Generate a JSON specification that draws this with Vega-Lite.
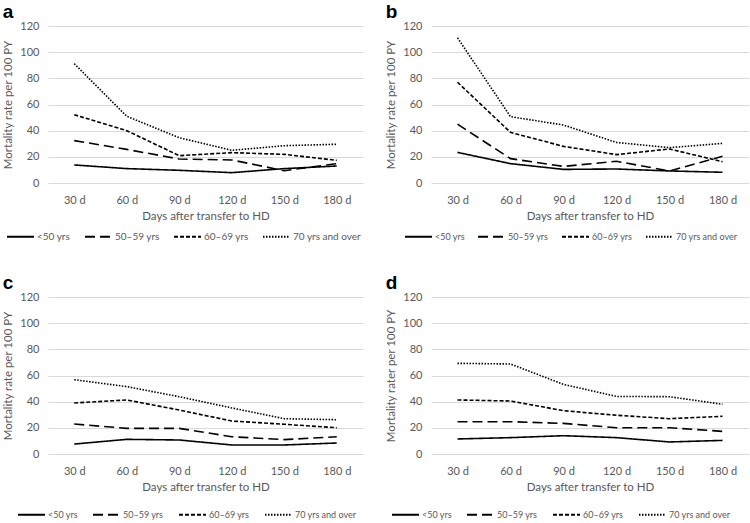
{
  "$schema": "https://vega.github.io/schema/vega-lite/v6.json",
  "padding": {"left": 2, "top": 3, "right": 0, "bottom": 0},
  "background": "white",
  "data": {"values": [
    {"panel":"a","day":"30 d","group":"<50 yrs","rate":13.8},
    {"panel":"a","day":"60 d","group":"<50 yrs","rate":11},
    {"panel":"a","day":"90 d","group":"<50 yrs","rate":9.7},
    {"panel":"a","day":"120 d","group":"<50 yrs","rate":7.9},
    {"panel":"a","day":"150 d","group":"<50 yrs","rate":11},
    {"panel":"a","day":"180 d","group":"<50 yrs","rate":13},
    {"panel":"a","day":"30 d","group":"50–59 yrs","rate":32.4},
    {"panel":"a","day":"60 d","group":"50–59 yrs","rate":25.7},
    {"panel":"a","day":"90 d","group":"50–59 yrs","rate":18.3},
    {"panel":"a","day":"120 d","group":"50–59 yrs","rate":17.6},
    {"panel":"a","day":"150 d","group":"50–59 yrs","rate":9.4},
    {"panel":"a","day":"180 d","group":"50–59 yrs","rate":14.8},
    {"panel":"a","day":"30 d","group":"60–69 yrs","rate":52.2},
    {"panel":"a","day":"60 d","group":"60–69 yrs","rate":40},
    {"panel":"a","day":"90 d","group":"60–69 yrs","rate":20.9},
    {"panel":"a","day":"120 d","group":"60–69 yrs","rate":23.2},
    {"panel":"a","day":"150 d","group":"60–69 yrs","rate":21.9},
    {"panel":"a","day":"180 d","group":"60–69 yrs","rate":17.3},
    {"panel":"a","day":"30 d","group":"70 yrs and over","rate":91.2},
    {"panel":"a","day":"60 d","group":"70 yrs and over","rate":51},
    {"panel":"a","day":"90 d","group":"70 yrs and over","rate":34.6},
    {"panel":"a","day":"120 d","group":"70 yrs and over","rate":25},
    {"panel":"a","day":"150 d","group":"70 yrs and over","rate":28.5},
    {"panel":"a","day":"180 d","group":"70 yrs and over","rate":29.6},
    {"panel":"b","day":"30 d","group":"<50 yrs","rate":23.4},
    {"panel":"b","day":"60 d","group":"<50 yrs","rate":14.8},
    {"panel":"b","day":"90 d","group":"<50 yrs","rate":10.4},
    {"panel":"b","day":"120 d","group":"<50 yrs","rate":10.7},
    {"panel":"b","day":"150 d","group":"<50 yrs","rate":9.2},
    {"panel":"b","day":"180 d","group":"<50 yrs","rate":8.2},
    {"panel":"b","day":"30 d","group":"50–59 yrs","rate":45},
    {"panel":"b","day":"60 d","group":"50–59 yrs","rate":18.6},
    {"panel":"b","day":"90 d","group":"50–59 yrs","rate":12.7},
    {"panel":"b","day":"120 d","group":"50–59 yrs","rate":16.6},
    {"panel":"b","day":"150 d","group":"50–59 yrs","rate":9.2},
    {"panel":"b","day":"180 d","group":"50–59 yrs","rate":20.4},
    {"panel":"b","day":"30 d","group":"60–69 yrs","rate":77},
    {"panel":"b","day":"60 d","group":"60–69 yrs","rate":38.7},
    {"panel":"b","day":"90 d","group":"60–69 yrs","rate":28},
    {"panel":"b","day":"120 d","group":"60–69 yrs","rate":21.7},
    {"panel":"b","day":"150 d","group":"60–69 yrs","rate":26},
    {"panel":"b","day":"180 d","group":"60–69 yrs","rate":16.3},
    {"panel":"b","day":"30 d","group":"70 yrs and over","rate":111},
    {"panel":"b","day":"60 d","group":"70 yrs and over","rate":50.7},
    {"panel":"b","day":"90 d","group":"70 yrs and over","rate":44.3},
    {"panel":"b","day":"120 d","group":"70 yrs and over","rate":31},
    {"panel":"b","day":"150 d","group":"70 yrs and over","rate":27},
    {"panel":"b","day":"180 d","group":"70 yrs and over","rate":30.3},
    {"panel":"c","day":"30 d","group":"<50 yrs","rate":7.6},
    {"panel":"c","day":"60 d","group":"<50 yrs","rate":11.2},
    {"panel":"c","day":"90 d","group":"<50 yrs","rate":10.7},
    {"panel":"c","day":"120 d","group":"<50 yrs","rate":6.9},
    {"panel":"c","day":"150 d","group":"<50 yrs","rate":6.9},
    {"panel":"c","day":"180 d","group":"<50 yrs","rate":8.4},
    {"panel":"c","day":"30 d","group":"50–59 yrs","rate":22.9},
    {"panel":"c","day":"60 d","group":"50–59 yrs","rate":19.6},
    {"panel":"c","day":"90 d","group":"50–59 yrs","rate":19.6},
    {"panel":"c","day":"120 d","group":"50–59 yrs","rate":13.2},
    {"panel":"c","day":"150 d","group":"50–59 yrs","rate":11},
    {"panel":"c","day":"180 d","group":"50–59 yrs","rate":13.2},
    {"panel":"c","day":"30 d","group":"60–69 yrs","rate":39},
    {"panel":"c","day":"60 d","group":"60–69 yrs","rate":41.3},
    {"panel":"c","day":"90 d","group":"60–69 yrs","rate":33.6},
    {"panel":"c","day":"120 d","group":"60–69 yrs","rate":25.2},
    {"panel":"c","day":"150 d","group":"60–69 yrs","rate":22.7},
    {"panel":"c","day":"180 d","group":"60–69 yrs","rate":20.1},
    {"panel":"c","day":"30 d","group":"70 yrs and over","rate":56.8},
    {"panel":"c","day":"60 d","group":"70 yrs and over","rate":51.5},
    {"panel":"c","day":"90 d","group":"70 yrs and over","rate":43.8},
    {"panel":"c","day":"120 d","group":"70 yrs and over","rate":35.2},
    {"panel":"c","day":"150 d","group":"70 yrs and over","rate":27},
    {"panel":"c","day":"180 d","group":"70 yrs and over","rate":26.2},
    {"panel":"d","day":"30 d","group":"<50 yrs","rate":11.5},
    {"panel":"d","day":"60 d","group":"<50 yrs","rate":12.5},
    {"panel":"d","day":"90 d","group":"<50 yrs","rate":14},
    {"panel":"d","day":"120 d","group":"<50 yrs","rate":12.5},
    {"panel":"d","day":"150 d","group":"<50 yrs","rate":9.2},
    {"panel":"d","day":"180 d","group":"<50 yrs","rate":10.4},
    {"panel":"d","day":"30 d","group":"50–59 yrs","rate":24.7},
    {"panel":"d","day":"60 d","group":"50–59 yrs","rate":24.7},
    {"panel":"d","day":"90 d","group":"50–59 yrs","rate":23.4},
    {"panel":"d","day":"120 d","group":"50–59 yrs","rate":20.1},
    {"panel":"d","day":"150 d","group":"50–59 yrs","rate":20.1},
    {"panel":"d","day":"180 d","group":"50–59 yrs","rate":17.3},
    {"panel":"d","day":"30 d","group":"60–69 yrs","rate":41.3},
    {"panel":"d","day":"60 d","group":"60–69 yrs","rate":40.5},
    {"panel":"d","day":"90 d","group":"60–69 yrs","rate":33.1},
    {"panel":"d","day":"120 d","group":"60–69 yrs","rate":29.6},
    {"panel":"d","day":"150 d","group":"60–69 yrs","rate":27},
    {"panel":"d","day":"180 d","group":"60–69 yrs","rate":28.8},
    {"panel":"d","day":"30 d","group":"70 yrs and over","rate":69.3},
    {"panel":"d","day":"60 d","group":"70 yrs and over","rate":68.8},
    {"panel":"d","day":"90 d","group":"70 yrs and over","rate":53.2},
    {"panel":"d","day":"120 d","group":"70 yrs and over","rate":44},
    {"panel":"d","day":"150 d","group":"70 yrs and over","rate":43.8},
    {"panel":"d","day":"180 d","group":"70 yrs and over","rate":38}
  ]},
  "config": {
    "view": {"stroke": null},
    "font": "Lato",
    "axis": {
      "domain": false, "ticks": false,
      "labelColor": "#595959", "titleColor": "#595959",
      "labelFont": "Lato", "titleFont": "Lato",
      "labelFontSize": 11, "titleFontSize": 11.5, "titleFontWeight": "normal",
      "gridColor": "#d9d9d9", "gridWidth": 1
    },
    "axisX": {"grid": false, "labelAngle": 0, "labelPadding": 11, "titlePadding": 5},
    "axisY": {"labelPadding": 9, "titlePadding": 6},
    "legend": {
      "orient": "none", "direction": "horizontal", "columns": 4,
      "symbolType": "stroke", "symbolSize": 729, "symbolStrokeWidth": 1.8,
      "symbolStrokeColor": "black",
      "labelFont": "Lato", "labelFontSize": 9, "labelColor": "#595959",
      "labelOffset": 2, "columnPadding": 11, "title": null
    },
    "title": {"anchor": "start", "frame": "bounds", "font": "Liberation Sans", "fontSize": 19, "fontWeight": "bold", "color": "black", "offset": -2}
  },
  "columns": 2,
  "spacing": {"column": 22, "row": 32},
  "resolve": {"scale": {"strokeDash": "independent"}, "legend": {"strokeDash": "independent"}},
  "concat": [
    {
      "title": "a",
      "width": 315, "height": 157,
      "transform": [{"filter": "datum.panel === 'a'"}],
      "mark": {"type": "line", "color": "black", "strokeWidth": 1.6},
      "encoding": {
        "x": {"field": "day", "type": "ordinal", "sort": ["30 d","60 d","90 d","120 d","150 d","180 d"], "axis": {"title": "Days after transfer to HD"}},
        "y": {"field": "rate", "type": "quantitative", "scale": {"domain": [0, 120]}, "axis": {"title": "Mortality rate per 100 PY", "values": [0,20,40,60,80,100,120]}},
        "strokeDash": {"field": "group", "type": "nominal", "scale": {"domain": ["<50 yrs","50–59 yrs","60–69 yrs","70 yrs and over"], "range": [[1,0],[10,5],[4,2],[1.5,1.5]]}, "legend": {"legendX": -42, "legendY": 196, "labelFontSize": 10, "columnPadding": 10}}
      }
    },
    {
      "title": "b",
      "width": 318, "height": 157,
      "transform": [{"filter": "datum.panel === 'b'"}],
      "mark": {"type": "line", "color": "black", "strokeWidth": 1.6},
      "encoding": {
        "x": {"field": "day", "type": "ordinal", "sort": ["30 d","60 d","90 d","120 d","150 d","180 d"], "axis": {"title": "Days after transfer to HD"}},
        "y": {"field": "rate", "type": "quantitative", "scale": {"domain": [0, 120]}, "axis": {"title": "Mortality rate per 100 PY", "values": [0,20,40,60,80,100,120]}},
        "strokeDash": {"field": "group", "type": "nominal", "scale": {"domain": ["<50 yrs","50–59 yrs","60–69 yrs","70 yrs and over"], "range": [[1,0],[10,5],[4,2],[1.5,1.5]]}, "legend": {"legendX": -27, "legendY": 196, "columnPadding": 9}}
      }
    },
    {
      "title": "c",
      "width": 315, "height": 157,
      "transform": [{"filter": "datum.panel === 'c'"}],
      "mark": {"type": "line", "color": "black", "strokeWidth": 1.6},
      "encoding": {
        "x": {"field": "day", "type": "ordinal", "sort": ["30 d","60 d","90 d","120 d","150 d","180 d"], "axis": {"title": "Days after transfer to HD"}},
        "y": {"field": "rate", "type": "quantitative", "scale": {"domain": [0, 120]}, "axis": {"title": "Mortality rate per 100 PY", "values": [0,20,40,60,80,100,120]}},
        "strokeDash": {"field": "group", "type": "nominal", "scale": {"domain": ["<50 yrs","50–59 yrs","60–69 yrs","70 yrs and over"], "range": [[1,0],[10,5],[4,2],[1.5,1.5]]}, "legend": {"legendX": -31, "legendY": 203}}
      }
    },
    {
      "title": "d",
      "width": 318, "height": 157,
      "transform": [{"filter": "datum.panel === 'd'"}],
      "mark": {"type": "line", "color": "black", "strokeWidth": 1.6},
      "encoding": {
        "x": {"field": "day", "type": "ordinal", "sort": ["30 d","60 d","90 d","120 d","150 d","180 d"], "axis": {"title": "Days after transfer to HD"}},
        "y": {"field": "rate", "type": "quantitative", "scale": {"domain": [0, 120]}, "axis": {"title": "Mortality rater per 100 PY", "values": [0,20,40,60,80,100,120]}},
        "strokeDash": {"field": "group", "type": "nominal", "scale": {"domain": ["<50 yrs","50–59 yrs","60–69 yrs","70 yrs and over"], "range": [[1,0],[10,5],[4,2],[1.5,1.5]]}, "legend": {"legendX": -40, "legendY": 203}}
      }
    }
  ]
}
